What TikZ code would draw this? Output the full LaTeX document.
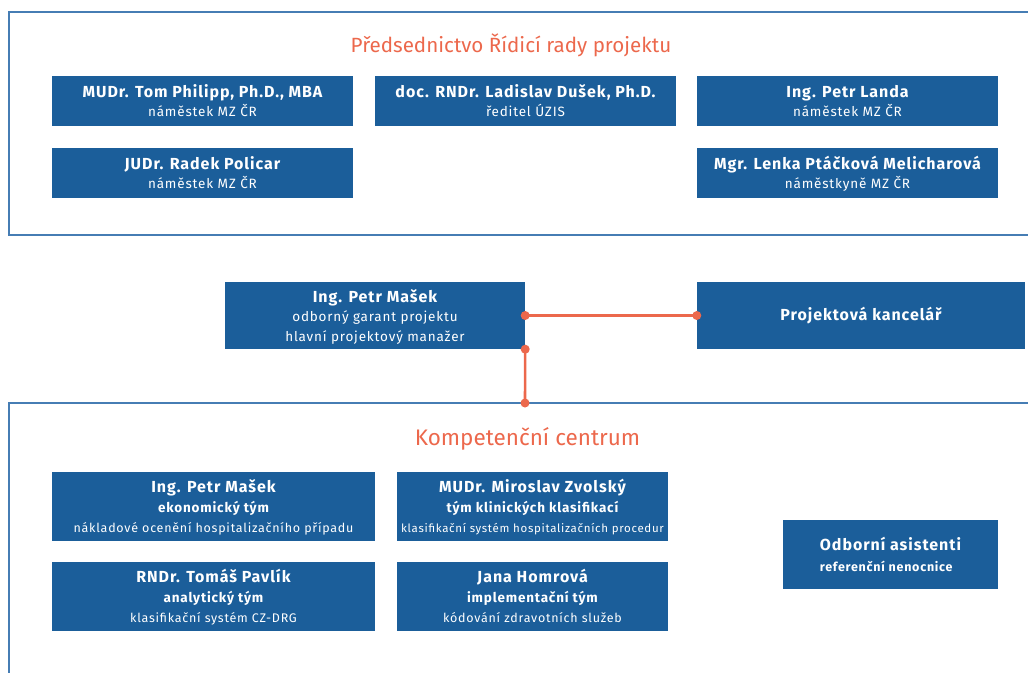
\documentclass[tikz,border=0pt]{standalone}
\usepackage{fontspec}
\setmainfont{Fira Sans}[LetterSpace=6]
\newfontfamily\titlefont{Fira Sans}
\definecolor{boxblue}{RGB}{27,94,154}
\definecolor{frameblue}{RGB}{70,125,180}
\definecolor{accent}{RGB}{236,104,76}
\newcommand{\nmline}[1]{{\fontsize{16}{20}\selectfont\bfseries #1\vphantom{ŘÝy}}}
\newcommand{\teamline}[1]{{\fontsize{13.5}{20}\selectfont\bfseries #1\vphantom{ŘÝy}}}
\newcommand{\plainline}[1]{#1\vphantom{ŘÝy}}
\begin{document}
\begin{tikzpicture}[x=1pt,y=-1pt,
  box/.style={fill=boxblue,text=white,align=center,inner sep=0pt,font=\fontsize{13.5}{18.5}\selectfont},
  frame/.style={draw=frameblue,line width=1.4pt},
  title/.style={text=accent,inner sep=0pt},
  link/.style={draw=accent,line width=2.6pt},
  dot/.style={fill=accent}]
\useasboundingbox (0,0) rectangle (1028,672);
% frames
\draw[frame] (1040,12) -- (9,12) -- (9,235) -- (1040,235);
\draw[frame] (1040,403) -- (9,403) -- (9,690);
\node[title,font=\titlefont\fontsize{20.6}{24}\selectfont] (t1) at (511,45) {Předsednictvo Řídicí rady projektu};
\node[title,font=\titlefont\fontsize{22.5}{26}\selectfont] (t2) at (527.5,439) {Kompetenční centrum};
% top boxes
\node[box,minimum width=301pt,minimum height=50pt] (philipp) at (202.5,101) {\nmline{MUDr. Tom Philipp, Ph.D., MBA}\\ \plainline{náměstek MZ ČR}};
\node[box,minimum width=301pt,minimum height=50pt] (dusek) at (525.5,101) {\nmline{doc. RNDr. Ladislav Dušek, Ph.D.}\\ \plainline{ředitel ÚZIS}};
\node[box,minimum width=301pt,minimum height=50pt] (landa) at (847.5,101) {\nmline{Ing. Petr Landa}\\ \plainline{náměstek MZ ČR}};
\node[box,minimum width=301pt,minimum height=50pt] (policar) at (202.5,173) {\nmline{JUDr. Radek Policar}\\ \plainline{náměstek MZ ČR}};
\node[box,minimum width=301pt,minimum height=50pt] (lenka) at (847.5,173) {\nmline{Mgr. Lenka Ptáčková Melicharová}\\ \plainline{náměstkyně MZ ČR}};
% middle
\node[box,minimum width=300pt,minimum height=67pt,font=\fontsize{13.5}{19.5}\selectfont] (masek) at (375,315.5) {{\fontsize{16}{19.5}\selectfont\bfseries Ing. Petr Mašek\vphantom{ŘÝy}}\\ \plainline{odborný garant projektu}\\ \plainline{hlavní projektový manažer}};
\node[box,minimum width=328pt,minimum height=67pt,font=\fontsize{16}{20}\selectfont\bfseries] (kanc) at (861,315.5) {Projektová kancelář};
% bottom
\node[box,minimum width=323pt,minimum height=69pt,font=\fontsize{12.5}{20}\selectfont] (ekon) at (213.5,506.5) {\nmline{Ing. Petr Mašek}\\ \teamline{ekonomický tým}\\ \plainline{nákladové ocenění hospitalizačního případu}};
\node[box,minimum width=271pt,minimum height=69pt,font=\fontsize{11.5}{20}\selectfont] (klin) at (532.5,506.5) {\nmline{MUDr. Miroslav Zvolský}\\ \teamline{tým klinických klasifikací}\\ \plainline{klasifikační systém hospitalizačních procedur}};
\node[box,minimum width=323pt,minimum height=69pt,font=\fontsize{12.5}{20}\selectfont] (anal) at (213.5,596.5) {\nmline{RNDr. Tomáš Pavlík}\\ \teamline{analytický tým}\\ \plainline{klasifikační systém CZ-DRG}};
\node[box,minimum width=271pt,minimum height=69pt,font=\fontsize{12.5}{20}\selectfont] (impl) at (532.5,596.5) {\nmline{Jana Homrová}\\ \teamline{implementační tým}\\ \plainline{kódování zdravotních služeb}};
\node[box,minimum width=215pt,minimum height=69pt,align=left,font=\fontsize{12.5}{21}\selectfont] (asist) at (890.5,554.5) {{\fontsize{16}{21}\selectfont\bfseries Odborní asistenti\vphantom{ŘÝy}}\\ {\bfseries referenční nenocnice\vphantom{ŘÝy}}};
% connectors
\coordinate (mE) at (masek.east);
\coordinate (kW) at (kanc.west);
\coordinate (mS) at (masek.south east);
\coordinate (fr) at (525,403);
\draw[link] (mE) -- (kW);
\draw[link] (mS) -- (fr);
\foreach \p in {mE,kW,mS,fr} \fill[dot] (\p) circle (4.5pt);
\end{tikzpicture}
\end{document}
